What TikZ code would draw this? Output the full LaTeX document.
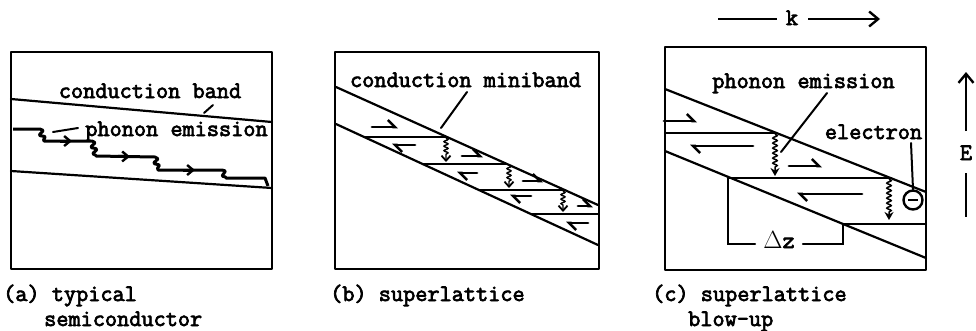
\documentclass[tikz,border=0pt]{standalone}
\usepackage{fontspec}
\newfontfamily\lblfont{Latin Modern Mono}[FakeBold=3]
\usetikzlibrary{arrows.meta,decorations.pathmorphing}
\tikzset{
  boxline/.style={line width=2.8pt, line join=round},
  band/.style={line width=2.2pt, line cap=round},
  lead/.style={line width=2pt, line cap=round},
  harp/.style={line width=2.8pt, line cap=round, -{Straight Barb[harpoon,length=7pt,width=14pt,line width=2.6pt]}},
  wavb/.style={line width=1.4pt, decorate, decoration={snake,amplitude=2pt,segment length=4.5pt,post length=6pt}, -{Straight Barb[length=5pt,width=9pt,line width=1.8pt]}},
  wavc/.style={line width=1.5pt, decorate, decoration={snake,amplitude=2.2pt,segment length=5pt,post length=7pt}, -{Stealth[length=8pt,width=9pt]}},
  stair/.style={line width=3pt, line join=round, decoration={snake,amplitude=2.4pt,segment length=7pt}},
  stairtip/.style={line width=3pt, -{Straight Barb[length=6pt,width=10pt,line width=2.4pt]}},
  lbl/.style={font=\lblfont\fontsize{23.6pt}{26pt}\selectfont, inner sep=0pt, anchor=base},
  axis/.style={line width=2.4pt},
}
\begin{document}
\begin{tikzpicture}[x=1pt,y=-1pt]
\useasboundingbox (0,0) rectangle (976,330);

% ---------------- (a) typical semiconductor ----------------
\coordinate (anw) at (11,52); \coordinate (ase) at (272,269);
\draw[boxline] (anw) rectangle (ase);
\coordinate (au1) at (11,99);  \coordinate (au2) at (272,122);
\coordinate (al1) at (11,171); \coordinate (al2) at (272,188);
\draw[band] (au1) -- (au2);
\draw[band] (al1) -- (al2);
\node[lbl] (acb) at (150,98) {conduction band};
\coordinate (acbA) at (204,113); \coordinate (acbB) at (213,105);
\draw[lead] (acbA) -- (acbB);
\node[lbl] (ape) at (176.5,136) {phonon emission};
\coordinate (apeA) at (53,132); \coordinate (apeB) at (78,128);
\draw[lead] (apeA) -- (apeB);
\draw[stair] (13,129) -- (40,129)
  decorate {-- (44,141)} -- (92,141)
  decorate {-- (96,156)} -- (155,157)
  decorate {-- (158,170)} -- (222,170)
  decorate {-- (226,178)} -- (265,178) -- (268,186);
\draw[stairtip] (60,141) -- (72,141);
\draw[stairtip] (118,156.4) -- (130,156.5);
\draw[stairtip] (183,170) -- (195,170);

% ---------------- (b) superlattice ----------------
\coordinate (bnw) at (335,52); \coordinate (bse) at (599,269);
\draw[boxline] (bnw) rectangle (bse);
\coordinate (bu1) at (336,87);  \coordinate (bu2) at (598,205);
\coordinate (bl1) at (336,124); \coordinate (bl2) at (598,245);
\draw[band] (bu1) -- (bu2);
\draw[band] (bl1) -- (bl2);
\node[lbl] (bcm) at (465.5,87) {conduction miniband};
\coordinate (bcmA) at (441,128); \coordinate (bcmB) at (467,92);
\draw[lead] (bcmA) -- (bcmB);
% levels
\coordinate (b1a) at (364,137); \coordinate (b1b) at (447,137);
\coordinate (b2a) at (423,164); \coordinate (b2b) at (507,164);
\coordinate (b3a) at (479,190); \coordinate (b3b) at (565,190);
\coordinate (b4a) at (532,214); \coordinate (b4b) at (598,214);
\draw[band] (b1a) -- (b1b);
\draw[band] (b2a) -- (b2b);
\draw[band] (b3a) -- (b3b);
\draw[band] (b4a) -- (b4b);
% phonon emissions
\draw[wavb] (446,138) -- (446,162);
\draw[wavb] (509,165) -- (509,188);
\draw[wavb] (563,191) -- (563,212);
% carrier motion
\draw[harp] (372,127) -- (398,127);
\draw[harp] (462,156) -- (483,156);
\draw[harp] (523,181) -- (543,181);
\draw[harp] (578,206) -- (593,206);
\draw[harp] (415,145) -- (392,145);
\draw[harp] (477,173) -- (457,173);
\draw[harp] (531,196) -- (510,196);
\draw[harp] (588,223) -- (566,223);

% ---------------- (c) superlattice blow-up ----------------
\coordinate (cnw) at (665,47); \coordinate (cse) at (926,270);
\draw[boxline] (cnw) rectangle (cse);
\coordinate (cu1) at (665,89);  \coordinate (cu2) at (926,192);
\coordinate (cl1) at (665,151); \coordinate (cl2) at (926,258);
\draw[band] (cu1) -- (cu2);
\draw[band] (cl1) -- (cl2);
\coordinate (c1a) at (665,133); \coordinate (c1b) at (776,133);
\coordinate (c2a) at (728,178); \coordinate (c2b) at (891,178);
\coordinate (c3a) at (843,224); \coordinate (c3b) at (926,224);
\draw[band] (c1a) -- (c1b);
\draw[band] (c2a) -- (c2b);
\draw[band] (c3a) -- (c3b);
% delta z bracket
\node[lbl] (dz) at (779,248) {$\Delta$z};
\coordinate (dzL) at (728,244); \coordinate (dzR) at (843,244);
\draw[band] (c2a) -- (dzL) -- ([xshift=-8pt]dz.west |- dzL);
\draw[band] ([xshift=8pt]dz.east |- dzR) -- (dzR) -- (c3a);
% phonon emissions
\draw[wavc] (775,134) -- (775,176);
\draw[wavc] (889,179) -- (889,220);
% carrier motion
\draw[harp] (664,121) -- (697,121);
\draw[harp] (753,146) -- (690,146);
\draw[harp] (789,166) -- (822,166);
\draw[harp] (862,194) -- (797,194);
% labels
\node[lbl] (cpe) at (803.5,88) {phonon emission};
\coordinate (cpeA) at (827,93); \coordinate (cpeB) at (781,152);
\draw[lead] (cpeA) -- (cpeB);
\node[lbl] (cel) at (873.5,139) {electron};
\node[draw, circle, line width=2.4pt, minimum size=19pt, inner sep=0pt] (elec) at (913,200) {};
\draw[line width=2.4pt] ([xshift=-5pt]elec.center) -- ([xshift=5pt]elec.center);
\coordinate (celA) at (911,143);
\draw[lead] (celA) -- (elec.north);

% ---------------- axes ----------------
\node[lbl] (k) at (792,25) {k};
\coordinate (kL) at (718,19); \coordinate (kR) at (880,19);
\draw[axis] (kL) -- ([xshift=-9pt]k.west |- kL);
\draw[axis, -{Straight Barb[length=9pt,width=15pt,line width=2.4pt]}] ([xshift=10pt]k.east |- kR) -- (kR);
\node[lbl] (E) at (966,160) {E};
\coordinate (Etop) at (966,72); \coordinate (Eu) at (966,131);
\coordinate (Ed) at (966,173);  \coordinate (Eb) at (966,217);
\draw[axis, -{Straight Barb[length=9pt,width=15pt,line width=2.4pt]}] (Eu) -- (Etop);
\draw[axis] (Ed) -- (Eb);

% ---------------- captions ----------------
\node[lbl, anchor=base west] (capa) at (3,301) {(a) typical};
\node[lbl, anchor=base west] (capa2) at (44,326) {semiconductor};
\node[lbl, anchor=base west] (capb) at (330,301) {(b) superlattice};
\node[lbl, anchor=base west] (capc) at (652,301) {(c) superlattice};
\node[lbl, anchor=base west] (capc2) at (688,326) {blow-up};
\end{tikzpicture}
\end{document}
